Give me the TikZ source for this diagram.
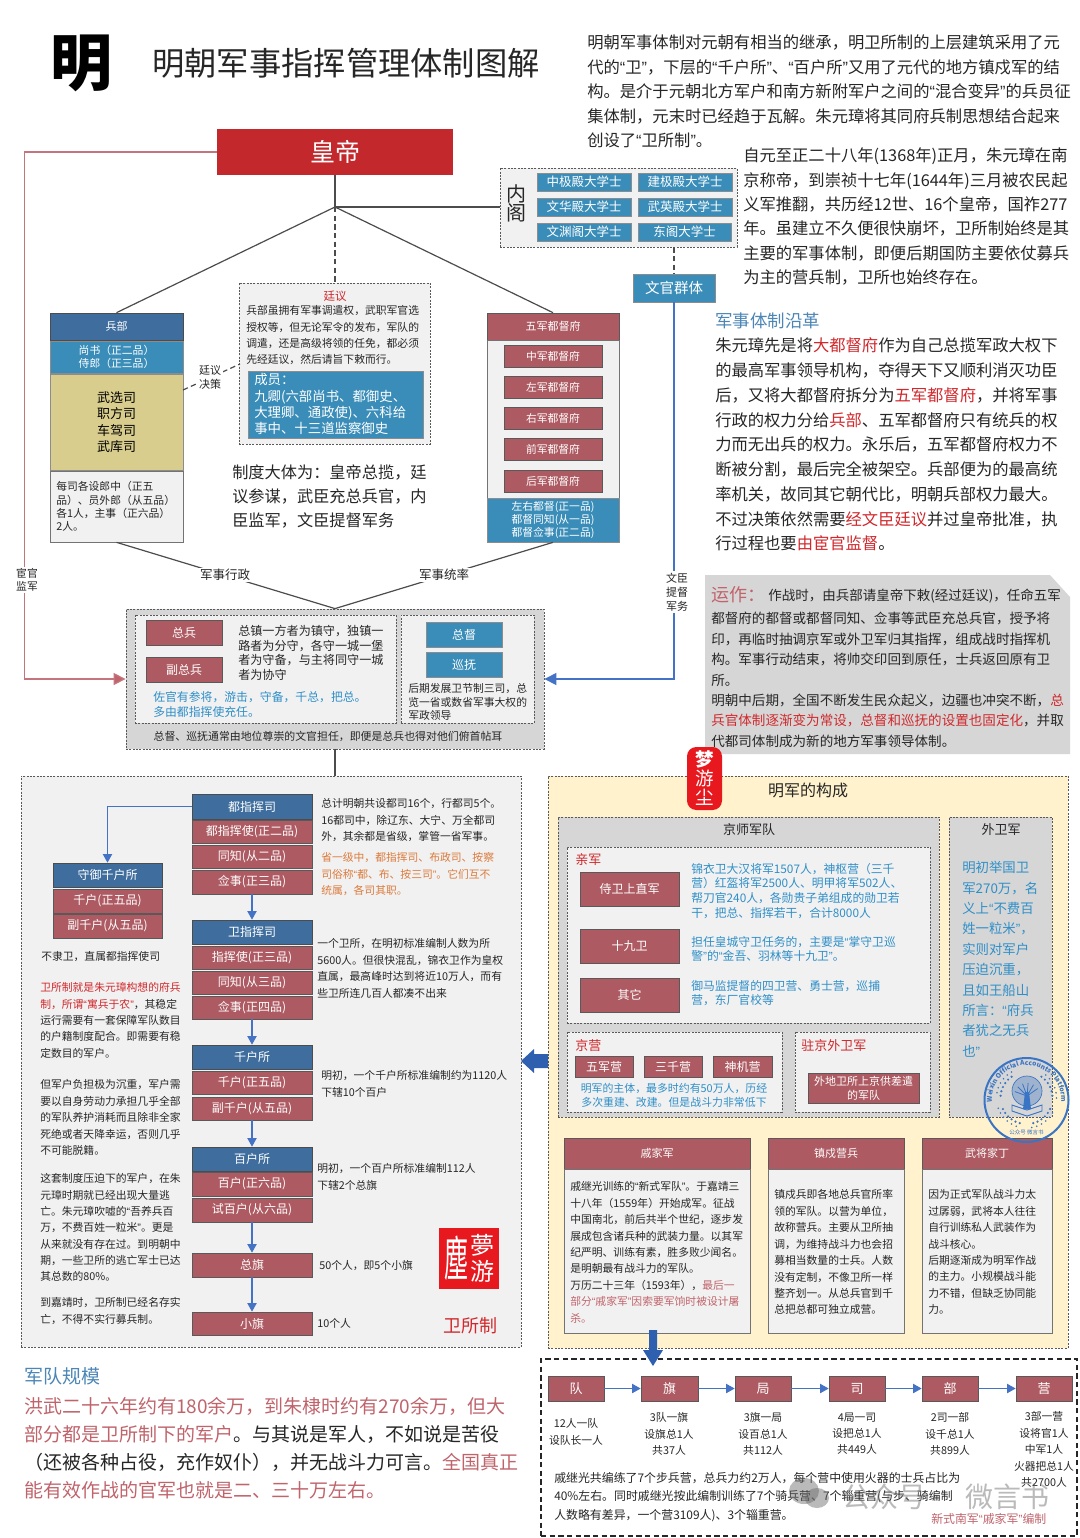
\documentclass[tikz,border=0pt]{standalone}
\usepackage{fontspec}
\setmainfont{Noto Sans CJK SC}
\newfontfamily\qf{Liberation Sans}
\newcommand\ql{{\qf “}}
\newcommand\qr{{\qf ”}}
\usetikzlibrary{arrows.meta,decorations.text}
\definecolor{hblue}{HTML}{3F6E9E}
\definecolor{teal1}{HTML}{3A8DB8}
\definecolor{redb}{HTML}{AD5A62}
\definecolor{khak}{HTML}{D9CD8D}
\definecolor{grayp}{HTML}{D6D6D6}
\definecolor{lgray}{HTML}{F1F1F1}
\definecolor{cream}{HTML}{FFF2CC}
\definecolor{emp}{HTML}{C2282C}
\definecolor{conb}{HTML}{4472C4}
\definecolor{pinkl}{HTML}{C4747C}
\definecolor{txt}{HTML}{262626}
\definecolor{rdt}{HTML}{D0282C}
\definecolor{blt}{HTML}{2F8FC8}
\definecolor{blh}{HTML}{4C86B6}
\definecolor{org}{HTML}{DB7B3C}
\definecolor{pkt}{HTML}{C0646C}
\definecolor{sealb}{HTML}{3A74C4}
\definecolor{stamp}{HTML}{E8181F}
\definecolor{dkblue}{HTML}{2F5FAF}
\newcommand\fs[2]{\pgfmathsetmacro\fsa{#1*0.75}\pgfmathsetmacro\fsb{#2*0.75}\fontsize{\fsa}{\fsb}\selectfont}
\newcommand\bx[7]{\pgfmathsetmacro\bw{(#4-#2)*0.75}\pgfmathsetmacro\bh{(#5-#3)*0.75}\pgfmathsetmacro\bcx{(#2+#4)/2}\pgfmathsetmacro\bcy{(#3+#5)/2}\node[#6,minimum width=\bw pt,minimum height=\bh pt] (#1) at (\bcx,\bcy) {#7};}
\newcommand\txl[7]{\pgfmathsetmacro\tya{#3-#4/2+0.8}\node[tnode,text=#6,font=\fs{#4}{#5}] (#1) at (#2,\tya) {#7};}
\newcommand\txc[7]{\pgfmathsetmacro\tya{#3-#4/2+0.8}\node[cnode,text=#6,font=\fs{#4}{#5}] (#1) at (#2,\tya) {#7};}
\tikzset{
 tnode/.style={anchor=north west,inner sep=0pt,align=left},
 cnode/.style={anchor=north,inner sep=0pt,align=center},
 base box/.style={inner sep=0pt,align=center,text=white,line width=0.5pt},
 hb/.style={base box,fill=hblue,draw=black!70},
 rb/.style={base box,fill=redb,draw=black!65},
 tb/.style={base box,fill=teal1,draw=black!45},
 gb/.style={inner sep=0pt,fill=lgray,draw=black!55,line width=0.5pt},
 dbox/.style={inner sep=0pt,draw=black!65,line width=0.6pt,dash pattern=on 1.5pt off 1pt},
 ln/.style={draw=black!70,line width=0.9pt},
 dln/.style={draw=black!70,line width=0.9pt,dash pattern=on 4pt off 2.5pt},
 blu/.style={draw=conb,line width=0.9pt},
 bluar/.style={draw=conb,line width=0.9pt,-{Triangle[width=7pt,length=6.5pt,fill=conb]}},
 pkl/.style={draw=pinkl,line width=1pt},
 lab/.style={inner sep=1.2pt,fill=white,text=txt,align=center},
}
\begin{document}
\begin{tikzpicture}[x=0.75pt,y=-0.75pt]
\useasboundingbox (0,0) rectangle (1080,1538);
\fill[white] (0,0) rectangle (1080,1538);
% title
\txc{bigm}{81}{65}{62}{66}{black}{\bfseries 明}
\txl{title}{152}{63}{32.3}{36}{txt}{明朝军事指挥管理体制图解}
\txl{intro}{587}{42}{16.3}{24.5}{txt}{明朝军事体制对元朝有相当的继承，明卫所制的上层建筑采用了元\\
代的\ql{}卫\qr{}，下层的\ql{}千户所\qr{}、\ql{}百户所\qr{}又用了元代的地方镇戍军的结\\
构。是介于元朝北方军户和南方新附军户之间的\ql{}混合变异\qr{}的兵员征\\
集体制，元末时已经趋于瓦解。朱元璋将其同府兵制思想结合起来\\
创设了\ql{}卫所制\qr{}。}
\txl{intro2}{743}{155}{16.3}{24.4}{txt}{自元至正二十八年(1368年)正月，朱元璋在南\\
京称帝，到崇祯十七年(1644年)三月被农民起\\
义军推翻，共历经12世、16个皇帝，国祚277\\
年。虽建立不久便很快崩坏，卫所制始终是其\\
主要的军事体制，即便后期国防主要依仗募兵\\
为主的营兵制，卫所也始终存在。}
% emperor
\bx{hd}{217}{129}{453}{175}{base box,fill=emp,font=\fs{25}{28}}{皇帝}
% neige
\bx{nei}{500}{168}{737}{247}{dbox,fill=lgray}{}
\txc{neit}{516}{194}{20}{19}{txt}{内\\阁}
\bx{n1}{537}{173}{631}{191}{tb,font=\fs{12.5}{14}}{中极殿大学士}
\bx{n2}{638}{173}{732}{191}{tb,font=\fs{12.5}{14}}{建极殿大学士}
\bx{n3}{537}{198}{631}{216}{tb,font=\fs{12.5}{14}}{文华殿大学士}
\bx{n4}{638}{198}{732}{216}{tb,font=\fs{12.5}{14}}{武英殿大学士}
\bx{n5}{537}{223}{631}{241}{tb,font=\fs{12.5}{14}}{文渊阁大学士}
\bx{n6}{638}{223}{731}{241}{tb,font=\fs{12.5}{14}}{东阁大学士}
\bx{wg}{633}{274}{715}{302}{tb,font=\fs{14.5}{16}}{文官群体}
% bingbu
\bx{bb}{50}{313}{183}{340}{hb,font=\fs{11}{13}}{兵部}
\bx{bb2}{50}{341}{183}{373}{tb,font=\fs{10.8}{13}}{尚书（正二品）\\侍郎（正三品）}
\bx{bb3}{50}{374}{183}{470}{base box,fill=khak,draw=black!45,text=black,font=\fs{13}{16.4}}{武选司\\职方司\\车驾司\\武库司}
\bx{bb4}{50}{471}{183}{542}{gb}{}
\txl{bb4t}{56}{486}{10.8}{13.1}{txt}{每司各设郎中（正五\\品）、员外郎（从五品）\\各1人，主事（正六品）\\2人。}
% tingyi
\bx{ty}{239}{283}{430}{444}{dbox,fill=lgray}{}
\txc{tyt}{335}{296}{11.5}{13}{rdt}{廷议}
\txl{tyb}{246}{310}{10.8}{16.3}{txt}{兵部虽拥有军事调遣权，武职军官选\\
授权等，但无论军令的发布，军队的\\
调遣，还是高级将领的任免，都必须\\
先经廷议，然后请旨下敕而行。}
\bx{tym}{248}{371}{423}{438}{tb}{}
\txl{tymt}{254}{379}{13.4}{16.4}{white}{成员：\\九卿(六部尚书、都御史、\\大理卿、通政使)、六科给\\事中、十三道监察御史}
\txl{zd}{232}{472}{16.2}{24}{txt}{制度大体为：皇帝总揽，廷\\议参谋，武臣充总兵官，内\\臣监军，文臣提督军务}
% wujun
\bx{wj}{487}{313}{619}{340}{rb,font=\fs{11}{13}}{五军都督府}
\bx{wjm}{487}{340}{619}{498}{gb}{}
\bx{wj1}{504}{345}{602}{367}{rb,font=\fs{10.8}{13}}{中军都督府}
\bx{wj2}{504}{376}{602}{398}{rb,font=\fs{10.8}{13}}{左军都督府}
\bx{wj3}{504}{407}{602}{429}{rb,font=\fs{10.8}{13}}{右军都督府}
\bx{wj4}{504}{438}{602}{460}{rb,font=\fs{10.8}{13}}{前军都督府}
\bx{wj5}{504}{470}{602}{492}{rb,font=\fs{10.8}{13}}{后军都督府}
\bx{wjb}{487}{498}{619}{542}{tb,font=\fs{10.8}{13}}{左右都督(正一品)\\都督同知(从一品)\\都督佥事(正二品)}
% zongbing panel
\bx{zb}{126}{609}{544}{749}{dbox,fill=grayp}{}
\bx{zbl}{135}{615}{396}{723}{dbox,fill=lgray}{}
\bx{zbr}{401}{615}{534}{723}{dbox,fill=lgray}{}
\bx{zb1}{146}{620}{222}{645}{rb,font=\fs{12}{14}}{总兵}
\bx{zb2}{146}{657}{222}{682}{rb,font=\fs{12}{14}}{副总兵}
\txl{zbt}{238}{630}{12.1}{14.8}{txt}{总镇一方者为镇守，独镇一\\路者为分守，各守一城一堡\\者为守备，与主将同守一城\\者为协守}
\txl{zbz}{153}{696}{11.85}{15}{blt}{佐官有参将，游击，守备，千总，把总。\\多由都指挥使充任。}
\bx{zd1}{426}{622}{502}{647}{tb,font=\fs{12}{14}}{总督}
\bx{zd2}{426}{652}{502}{677}{tb,font=\fs{12}{14}}{巡抚}
\txl{zbr2}{408}{688}{10.8}{13.6}{txt}{后期发展卫节制三司，总\\览一省或数省军事大权的\\军政领导}
\txc{zbb}{328}{736}{10.9}{13}{txt}{总督、巡抚通常由地位尊崇的文官担任，即便是总兵也得对他们俯首帖耳}
% connectors upper
\coordinate (j) at (335,207);
\coordinate (cea) at (183,390);
\coordinate (ceb) at (240,364);
\draw[ln] (hd.south -| j) -- (j);
\draw[ln] (j) -- (j -| nei.west);
\draw[ln] (j) -- (bb.north);
\draw[ln] (j) -- (wj.north);
\draw[dln] (j) -- (j |- ty.north);
\draw[dln] (cea) -- (ceb);
\draw[dln] (nei.south -| wg.north) -- (wg.north);
\draw[ln] (bb4.south) -- (zb.north);
\draw[ln] (wjb.south) -- (zb.north);
\draw[pkl,-{Triangle[width=9pt,length=9pt,fill=pkt]}] (hd.west) -- ++(-192,0) |- (zb.west);
\draw[blu,-{Triangle[width=9pt,length=9pt,fill=conb]}] (wg.south) |- (zb.east);
\node[lab,font=\fs{10.8}{13.5}] (l1) at (27,580) {宦官\\监军};
\node[lab,font=\fs{11}{14}] (l2) at (210,377) {廷议\\决策};
\node[lab,font=\fs{12.5}{14}] (l3) at (225,575) {军事行政};
\node[lab,font=\fs{12.5}{14}] (l4) at (444,575) {军事统率};
\node[lab,font=\fs{11}{14}] (l5) at (677,592) {文臣\\提督\\军务};
% right texts
\txl{hist}{715}{320}{17.5}{20}{blh}{军事体制沿革}
\txl{histb}{715}{345}{16.3}{24.75}{txt}{朱元璋先是将\textcolor{rdt}{大都督府}作为自己总揽军政大权下\\
的最高军事领导机构，夺得天下又顺利消灭功臣\\
后，又将大都督府拆分为\textcolor{rdt}{五军都督府}，并将军事\\
行政的权力分给\textcolor{rdt}{兵部}、五军都督府只有统兵的权\\
力而无出兵的权力。永乐后，五军都督府权力不\\
断被分割，最后完全被架空。兵部便为的最高统\\
率机关，故同其它朝代比，明朝兵部权力最大。\\
不过决策依然需要\textcolor{rdt}{经文臣廷议}并过皇帝批准，执\\
行过程也要\textcolor{rdt}{由宦官监督}。}
% yunzuo
\fill[grayp] (705,575) -- (1050,575) -- (1070,597) -- (1070,754) -- (705,754) -- cycle;
\txl{yz}{711}{594}{18}{20}{pkt}{运作：}
\txl{yz1}{768}{595}{13.5}{16}{txt}{作战时，由兵部请皇帝下敕(经过廷议)，任命五军}
\txl{yz2}{711}{618}{13.56}{20.4}{txt}{都督府的都督或都督同知、佥事等武臣充总兵官，授予将\\
印，再临时抽调京军或外卫军归其指挥，组成战时指挥机\\
构。军事行动结束，将帅交印回到原任，士兵返回原有卫\\
所。\\
明朝中后期，全国不断发生民众起义，边疆也冲突不断，\textcolor{rdt}{总}\\
\textcolor{rdt}{兵官体制逐渐变为常设，总督和巡抚的设置也固定化}，并取\\
代都司体制成为新的地方军事领导体制。}
% left panel
\bx{lp}{21}{776}{521}{1347}{dbox,fill=lgray}{}
\draw[ln] (zb.south) -- (zb.south |- lp.north);
\foreach \n/\ya/\yb/\st/\tt in {d0/794/819/hb/都指挥司,d1/820/843/rb/都指挥使(正二品),d2/845/868/rb/同知(从二品),d3/870/894/rb/佥事(正三品),w0/920/944/hb/卫指挥司,w1/946/969/rb/指挥使(正三品),w2/971/994/rb/同知(从三品),w3/996/1019/rb/佥事(正四品),q0/1045/1069/hb/千户所,q1/1071/1094/rb/千户(正五品),q2/1097/1120/rb/副千户(从五品),b0/1147/1171/hb/百户所,b1/1172/1196/rb/百户(正六品),b2/1198/1222/rb/试百户(从六品),zq/1253/1277/rb/总旗,xq/1312/1335/rb/小旗}{
 \bx{\n}{192}{\ya}{312}{\yb}{\st,font=\fs{12}{14}}{\tt}
}
\foreach \n/\ya/\yb/\st/\tt in {s0/863/887/hb/守御千户所,s1/889/913/rb/千户(正五品),s2/914/938/rb/副千户(从五品)}{
 \bx{\n}{53}{\ya}{162}{\yb}{\st,font=\fs{12}{14}}{\tt}
}
\draw[bluar] (d0.west) -| (s0.north);
\draw[bluar] (d3.south) -- (w0.north);
\draw[bluar] (w3.south) -- (q0.north);
\draw[bluar] (q2.south) -- (b0.north);
\draw[bluar] (b2.south) -- (zq.north);
\draw[bluar] (zq.south) -- (xq.north);
\txl{lr1}{321}{803}{10.8}{16.5}{txt}{总计明朝共设都司16个，行都司5个。\\16都司中，除辽东、大宁、万全都司\\外，其余都是省级，掌管一省军事。}
\txl{lr2}{321}{857}{10.8}{16.4}{org}{省一级中，都指挥司、布政司、按察\\司俗称\ql{}都、布、按三司\qr{}。它们互不\\统属，各司其职。}
\txl{lr3}{317}{943}{10.8}{16.5}{txt}{一个卫所，在明初标准编制人数为所\\5600人。但很快混乱，锦衣卫作为皇权\\直属，最高峰时达到将近10万人，而有\\些卫所连几百人都凑不出来}
\txl{lr4}{321}{1075}{10.8}{16.4}{txt}{明初，一个千户所标准编制约为1120人\\下辖10个百户}
\txl{lr5}{317}{1168}{10.8}{16.4}{txt}{明初，一个百户所标准编制112人\\下辖2个总旗}
\txl{lr6}{319}{1265}{10.8}{14}{txt}{50个人，即5个小旗}
\txl{lr7}{317}{1323}{10.8}{14}{txt}{10个人}
\txl{ll1}{41}{956}{10.8}{14}{txt}{不隶卫，直属都指挥使司}
\txl{ll2}{40}{987}{10.8}{16.3}{txt}{\textcolor{rdt}{卫所制就是朱元璋构想的府兵}\\\textcolor{rdt}{制，所谓\ql{}寓兵于农\qr{}}，其稳定\\运行需要有一套保障军队数目\\的户籍制度配合。即需要有稳\\定数目的军户。}
\txl{ll3}{40}{1084}{10.8}{16.4}{txt}{但军户负担极为沉重，军户需\\要以自身劳动力承担几乎全部\\的军队养护消耗而且除非全家\\死绝或者天降幸运，否则几乎\\不可能脱籍。}
\txl{ll4}{40}{1178}{10.8}{16.35}{txt}{这套制度压迫下的军户，在朱\\元璋时期就已经出现大量逃\\亡。朱元璋吹嘘的\ql{}吾养兵百\\万，不费百姓一粒米\qr{}。更是\\从来就没有存在过。到明朝中\\期，一些卫所的逃亡军士已达\\其总数的80\%。}
\txl{ll5}{40}{1302}{10.8}{16.4}{txt}{到嘉靖时，卫所制已经名存实\\亡，不得不实行募兵制。}
% stamp
\fill[stamp] (439,1228) rectangle (499,1289);
\node[inner sep=0pt,text=white,font=\fs{24}{24},yscale=2] (st1) at (456,1258) {塵};
\node[inner sep=0pt,text=white,font=\fs{24}{24}] (st2) at (482,1245) {夢};
\node[inner sep=0pt,text=white,font=\fs{24}{24}] (st3) at (482,1271) {游};
\txc{wsz}{470}{1325}{18}{20}{rdt}{卫所制}
% right panel
\bx{rp}{548}{776}{1068}{1348}{dbox,fill=cream}{}
\fill[dkblue] (521,1061) -- (534,1049) -- (534,1054) -- (548,1054) -- (548,1068) -- (534,1068) -- (534,1073) -- cycle;
\txc{rpt}{808}{790}{16}{18}{txt}{明军的构成}
\bx{jq}{558}{817}{939}{1117}{dbox,fill=grayp}{}
\bx{wwj}{949}{817}{1052}{1117}{dbox,fill=grayp}{}
\txc{jqt}{749}{829}{13}{15}{txt}{京师军队}
\txc{wwt}{1001}{829}{13}{15}{txt}{外卫军}
\bx{qj}{567}{847}{930}{1023}{dbox,fill=lgray}{}
\txl{qjt}{575}{859}{13}{15}{rdt}{亲军}
\bx{qj1}{580}{872}{679}{906}{rb,font=\fs{12}{14}}{侍卫上直军}
\bx{qj2}{580}{929}{679}{963}{rb,font=\fs{12}{14}}{十九卫}
\bx{qj3}{580}{978}{679}{1012}{rb,font=\fs{12}{14}}{其它}
\txl{qj1t}{691}{868}{11.8}{14.7}{blt}{锦衣卫大汉将军1507人，神枢营（三千\\营）红盔将军2500人、明甲将军502人、\\帮刀官240人，各勋贵子弟组成的勋卫若\\干，把总、指挥若干，合计8000人}
\txl{qj2t}{691}{941}{11.8}{14.7}{blt}{担任皇城守卫任务的，主要是\ql{}掌守卫巡\\警\qr{}的\ql{}金吾、羽林等十九卫\qr{}。}
\txl{qj3t}{691}{985}{11.8}{14.7}{blt}{御马监提督的四卫营、勇士营，巡捕\\营，东厂官校等}
\bx{jy}{567}{1032}{782}{1112}{dbox,fill=lgray}{}
\txl{jyt}{575}{1045}{13}{15}{rdt}{京营}
\bx{jy1}{575}{1056}{633}{1077}{rb,font=\fs{12}{14}}{五军营}
\bx{jy2}{644}{1056}{702}{1077}{rb,font=\fs{12}{14}}{三千营}
\bx{jy3}{713}{1056}{772}{1077}{rb,font=\fs{12}{14}}{神机营}
\txc{jyb}{674}{1088}{10.9}{13.2}{blt}{明军的主体，最多时约有50万人，历经\\多次重建、改建。但是战斗力非常低下}
\bx{zj}{795}{1032}{930}{1112}{dbox,fill=lgray}{}
\txl{zjt}{801}{1045}{13}{15}{rdt}{驻京外卫军}
\bx{zj1}{808}{1073}{919}{1103}{rb,font=\fs{11}{14}}{外地卫所上京供差遣\\的军队}
\txl{wwb}{962}{867}{13.4}{20.4}{blt}{明初举国卫\\军270万，名\\义上\ql{}不费百\\姓一粒米\qr{}，\\实则对军户\\压迫沉重，\\且如王船山\\所言：\ql{}府兵\\者犹之无兵\\也\qr{}}
% cards
\bx{c1h}{564}{1138}{750}{1169}{rb,font=\fs{11}{13}}{戚家军}
\bx{c1}{564}{1169}{750}{1333}{gb}{}
\bx{c2h}{768}{1138}{904}{1169}{rb,font=\fs{11}{13}}{镇戍营兵}
\bx{c2}{768}{1169}{904}{1333}{gb}{}
\bx{c3h}{922}{1138}{1052}{1169}{rb,font=\fs{11}{13}}{武将家丁}
\bx{c3}{922}{1169}{1052}{1333}{gb}{}
\txl{c1t}{570}{1186}{10.8}{16.4}{txt}{戚继光训练的\ql{}新式军队\qr{}。于嘉靖三\\
十八年（1559年）开始成军。征战\\
中国南北，前后共半个世纪，逐步发\\
展成包含诸兵种的武装力量。以其军\\
纪严明、训练有素，胜多败少闻名。\\
是明朝最有战斗力的军队。\\
万历二十三年（1593年），\textcolor{pkt}{最后一}\\
\textcolor{pkt}{部分\ql{}戚家军\qr{}因索要军饷时被设计屠}\\
\textcolor{pkt}{杀。}}
\txl{c2t}{774}{1194}{10.8}{16.45}{txt}{镇戍兵即各地总兵官所率\\领的军队。以营为单位，\\故称营兵。主要从卫所抽\\调，为维持战斗力也会招\\募相当数量的士兵。人数\\没有定制，不像卫所一样\\整齐划一。从总兵官到千\\总把总都可独立成营。}
\txl{c3t}{928}{1194}{10.8}{16.45}{txt}{因为正式军队战斗力太\\过孱弱，武将本人往往\\自行训练私人武装作为\\战斗核心。\\后期逐渐成为明军作战\\的主力。小规模战斗能\\力不错，但缺乏协同能\\力。}
% vertical seal
\fill[stamp,rounded corners=7pt] (687,747) rectangle (722,810);
\txc{vs}{704.5}{759}{18.5}{19}{white}{\bfseries 梦\\游\\尘}
% round seal
\draw[sealb,line width=1.5pt] (1026.5,1100) circle[radius=42];
\path[decorate,decoration={text along path,text align=center,text={|\fontsize{5}{6}\selectfont\bfseries\color{sealb}|Weixin Official Accounts Platform}}] (993,1109) arc[start angle=165,end angle=375,radius=34.7];
\foreach \a in {25,35,...,75,105,115,...,155}{
 \fill[sealb] ({1026.5+26*cos(\a)},{1098+26*sin(\a)}) circle[radius=1.2];
 \fill[sealb] ({1026.5+30*cos(\a+5)},{1098+30*sin(\a+5)}) circle[radius=0.9];
}
\foreach \a in {185,195,...,235,305,315,...,355}{
 \fill[sealb] ({1026.5+26*cos(\a)},{1098+26*sin(\a)}) circle[radius=1.2];
 \fill[sealb] ({1026.5+30*cos(\a+5)},{1098+30*sin(\a+5)}) circle[radius=0.9];
}
\fill[sealb,opacity=0.35] (1027,1091) circle[radius=15];
\draw[sealb,line width=0.5pt] (1027,1091) circle[radius=15];
\foreach \a in {200,225,...,340}{
 \draw[sealb,line width=0.6pt] (1027,1096) -- ({1027+13*cos(\a)},{1096+13*sin(\a)});
}
\fill[sealb] (1025,1092) -- (1029,1092) -- (1031,1109) -- (1023,1109) -- cycle;
\draw[sealb,line width=0.7pt] (1012,1105) -- (1027,1110) -- (1042,1105) -- (1042,1111) -- (1027,1116) -- (1012,1111) -- cycle;
\node[inner sep=0pt,text=sealb,font=\fs{5.5}{6}] (sealt) at (1026.5,1132) {公众号 微言书};
% bottom dashed box
\bx{ob}{541}{1359}{1077}{1536}{draw=black!85,inner sep=0pt,line width=0.9pt,dash pattern=on 4pt off 2.5pt,fill=white}{}
% block arrow down
\fill[dkblue] (649,1330) -- (657,1330) -- (657,1350) -- (663,1350) -- (653,1366) -- (643,1350) -- (649,1350) -- cycle;
\bx{o1}{548}{1376}{604}{1401}{rb,font=\fs{13}{15}}{队}
\bx{o2}{641}{1376}{698}{1401}{rb,font=\fs{13}{15}}{旗}
\bx{o3}{735}{1376}{791}{1401}{rb,font=\fs{13}{15}}{局}
\bx{o4}{829}{1376}{885}{1401}{rb,font=\fs{13}{15}}{司}
\bx{o5}{922}{1376}{978}{1401}{rb,font=\fs{13}{15}}{部}
\bx{o6}{1016}{1376}{1072}{1401}{rb,font=\fs{13}{15}}{营}
\draw[bluar] (o1) -- (o2);
\draw[bluar] (o2) -- (o3);
\draw[bluar] (o3) -- (o4);
\draw[bluar] (o4) -- (o5);
\draw[bluar] (o5) -- (o6);
\txc{o1t}{576}{1423}{10.8}{16.4}{txt}{12人一队\\设队长一人}
\txc{o2t}{669}{1417}{10.8}{16.4}{txt}{3队一旗\\设旗总1人\\共37人}
\txc{o3t}{763}{1417}{10.8}{16.4}{txt}{3旗一局\\设百总1人\\共112人}
\txc{o4t}{857}{1417}{10.8}{16.4}{txt}{4局一司\\设把总1人\\共449人}
\txc{o5t}{950}{1417}{10.8}{16.4}{txt}{2司一部\\设千总1人\\共899人}
\txc{o6t}{1044}{1416}{10.8}{16.45}{txt}{3部一营\\设将官1人\\中军1人\\火器把总1人\\共2700人}
\txl{obt}{554}{1477}{11.9}{18.4}{txt}{戚继光共编练了7个步兵营，总兵力约2万人，每个营中使用火器的士兵占比为\\
40\%左右。同时戚继光按此编制训练了7个骑兵营、7个辎重营(与步、骑编制\\
人数略有差异，一个营3109人)、3个辎重营。}
% watermark
\begin{scope}[opacity=0.45]
\fill[black!60] (804,1491) ellipse[x radius=15,y radius=13];
\fill[black!60] (817,1498) ellipse[x radius=12,y radius=10];
\node[inner sep=0pt,text=black!60,font=\fs{28}{30}] (wm1) at (884,1497) {公众号};
\node[inner sep=0pt,text=black!60,font=\fs{28}{30}] (wm2) at (1007,1497) {微言书};
\end{scope}
\txl{obc}{931}{1518}{11.9}{14}{pkt}{新式南军\ql{}戚家军\qr{}编制}
% army size
\txl{scale}{24}{1376}{19}{22}{blh}{军队规模}
\txl{scb}{24}{1406}{19}{28}{pkt}{洪武二十六年约有180余万，到朱棣时约有270余万，但大\\
部分都是卫所制下的军户\textcolor{txt}{。与其说是军人，不如说是苦役}\\
\textcolor{txt}{（还被各种占役，充作奴仆），并无战斗力可言。}全国真正\\
能有效作战的官军也就是二、三十万左右。}
\end{tikzpicture}
\end{document}
